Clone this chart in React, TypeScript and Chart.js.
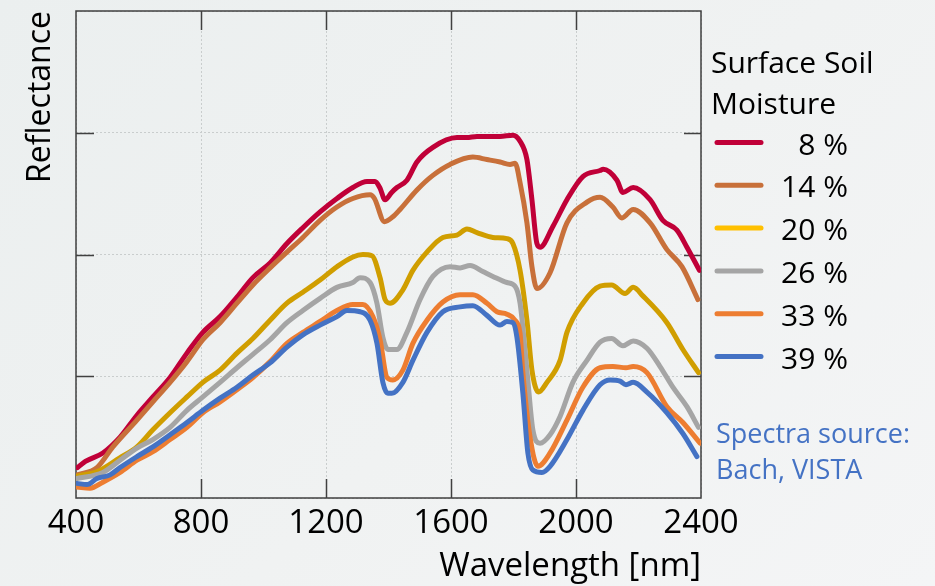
import React, { useEffect, useRef } from "react";
import { Chart, registerables } from "chart.js";

Chart.register(...registerables);

// ---- Data ----
const X_MIN = 400;
const X_MAX = 2400;
const X_STEP = 400;
const Y_MIN = 0;
const Y_MAX = 0.4;
const Y_STEP = 0.1;

const SERIES_LABELS = ["8 %", "14 %", "20 %", "26 %", "33 %", "39 %"];

const WL_8 = [405, 430, 486, 541, 595, 646, 701, 755, 806, 861, 915, 966, 1021, 1075, 1126, 1181, 1235, 1286, 1331, 1357, 1372, 1389, 1410, 1427, 1459, 1491, 1542, 1619, 1650, 1683, 1757, 1798, 1821, 1843, 1859, 1875, 1885, 1926, 1971, 2022, 2077, 2087, 2131, 2150, 2183, 2237, 2278, 2323, 2355, 2395];
const R_8 = [0.025, 0.030, 0.037, 0.050, 0.068, 0.083, 0.099, 0.119, 0.136, 0.149, 0.165, 0.181, 0.193, 0.209, 0.222, 0.235, 0.246, 0.255, 0.260, 0.260, 0.255, 0.245, 0.251, 0.255, 0.261, 0.276, 0.288, 0.296, 0.296, 0.297, 0.297, 0.298, 0.293, 0.278, 0.245, 0.209, 0.206, 0.223, 0.245, 0.264, 0.269, 0.270, 0.261, 0.251, 0.255, 0.245, 0.228, 0.220, 0.206, 0.187];

const WL_14 = [403, 467, 518, 595, 646, 701, 755, 806, 861, 915, 966, 1021, 1075, 1126, 1181, 1235, 1286, 1341, 1355, 1387, 1414, 1437, 1491, 1542, 1597, 1670, 1715, 1757, 1789, 1805, 1821, 1843, 1859, 1875, 1917, 1971, 2035, 2077, 2118, 2147, 2183, 2237, 2291, 2339, 2390];
const R_14 = [0.019, 0.025, 0.042, 0.064, 0.079, 0.095, 0.112, 0.130, 0.144, 0.160, 0.175, 0.189, 0.202, 0.214, 0.228, 0.239, 0.246, 0.249, 0.246, 0.227, 0.231, 0.237, 0.253, 0.265, 0.274, 0.280, 0.278, 0.276, 0.274, 0.275, 0.259, 0.226, 0.190, 0.172, 0.185, 0.226, 0.243, 0.247, 0.239, 0.230, 0.237, 0.226, 0.204, 0.190, 0.163];

const WL_20 = [403, 470, 540, 595, 646, 701, 755, 806, 861, 915, 966, 1021, 1075, 1126, 1181, 1235, 1286, 1318, 1347, 1373, 1389, 1405, 1446, 1478, 1523, 1574, 1619, 1651, 1683, 1734, 1779, 1798, 1821, 1843, 1859, 1880, 1907, 1949, 1971, 2022, 2077, 2114, 2157, 2183, 2214, 2291, 2342, 2392];
const R_20 = [0.018, 0.022, 0.033, 0.042, 0.056, 0.070, 0.083, 0.095, 0.105, 0.119, 0.131, 0.146, 0.160, 0.169, 0.179, 0.190, 0.198, 0.200, 0.199, 0.181, 0.163, 0.160, 0.171, 0.187, 0.202, 0.214, 0.216, 0.221, 0.218, 0.214, 0.213, 0.209, 0.187, 0.146, 0.105, 0.087, 0.095, 0.113, 0.136, 0.160, 0.174, 0.175, 0.168, 0.173, 0.166, 0.144, 0.122, 0.103];

const WL_26 = [403, 486, 541, 595, 646, 701, 755, 806, 861, 915, 966, 1021, 1075, 1126, 1181, 1235, 1286, 1309, 1341, 1363, 1382, 1398, 1427, 1459, 1501, 1542, 1597, 1629, 1661, 1702, 1734, 1779, 1805, 1821, 1843, 1862, 1885, 1917, 1949, 1990, 2035, 2077, 2114, 2150, 2183, 2227, 2269, 2310, 2355, 2392];
const R_26 = [0.016, 0.021, 0.031, 0.041, 0.048, 0.058, 0.072, 0.083, 0.095, 0.107, 0.118, 0.130, 0.144, 0.154, 0.164, 0.173, 0.177, 0.181, 0.177, 0.160, 0.132, 0.122, 0.122, 0.136, 0.163, 0.182, 0.190, 0.189, 0.191, 0.186, 0.182, 0.177, 0.174, 0.160, 0.105, 0.056, 0.045, 0.052, 0.067, 0.095, 0.113, 0.128, 0.131, 0.125, 0.129, 0.123, 0.108, 0.091, 0.075, 0.058];

const WL_33 = [403, 445, 486, 541, 595, 646, 701, 755, 806, 861, 915, 966, 1021, 1075, 1126, 1181, 1235, 1286, 1318, 1350, 1373, 1395, 1414, 1446, 1478, 1523, 1574, 1629, 1670, 1715, 1747, 1779, 1805, 1821, 1830, 1853, 1878, 1917, 1971, 2022, 2077, 2118, 2160, 2183, 2227, 2291, 2342, 2397];
const R_33 = [0.009, 0.008, 0.013, 0.021, 0.031, 0.038, 0.048, 0.058, 0.070, 0.079, 0.089, 0.099, 0.112, 0.127, 0.136, 0.145, 0.154, 0.159, 0.159, 0.149, 0.130, 0.099, 0.097, 0.105, 0.127, 0.146, 0.161, 0.167, 0.167, 0.160, 0.153, 0.151, 0.146, 0.135, 0.103, 0.050, 0.026, 0.037, 0.064, 0.091, 0.107, 0.108, 0.107, 0.108, 0.103, 0.075, 0.062, 0.045];

const WL_39 = [403, 435, 467, 509, 541, 595, 646, 701, 755, 806, 861, 915, 966, 1021, 1075, 1126, 1181, 1235, 1267, 1309, 1341, 1363, 1382, 1398, 1411, 1446, 1478, 1523, 1574, 1629, 1670, 1715, 1757, 1779, 1798, 1811, 1830, 1846, 1862, 1891, 1917, 1971, 2022, 2077, 2109, 2141, 2160, 2183, 2227, 2291, 2342, 2387];
const R_39 = [0.012, 0.011, 0.016, 0.019, 0.025, 0.034, 0.042, 0.052, 0.062, 0.072, 0.082, 0.091, 0.101, 0.111, 0.124, 0.134, 0.142, 0.149, 0.154, 0.153, 0.146, 0.127, 0.095, 0.086, 0.086, 0.095, 0.113, 0.136, 0.153, 0.157, 0.158, 0.150, 0.142, 0.145, 0.144, 0.132, 0.086, 0.037, 0.023, 0.021, 0.026, 0.048, 0.072, 0.093, 0.097, 0.096, 0.093, 0.095, 0.087, 0.070, 0.053, 0.034];

const SERIES_WL = [WL_8, WL_14, WL_20, WL_26, WL_33, WL_39];
const SERIES_R = [R_8, R_14, R_20, R_26, R_33, R_39];

const X_TITLE = "Wavelength [nm]";
const Y_TITLE = "Reflectance";
const LEGEND_TITLE = ["Surface Soil", "Moisture"];
const SOURCE_TEXT = ["Spectra source:", "Bach, VISTA"];

// ---- Styles ----
const FONT = "'Open Sans', 'Noto Sans', sans-serif";
const LINE_COLORS = ["#C00038", "#C8703A", "#D09E00", "#A5A5A5", "#ED7D31", "#4472C4"];
const LEGEND_COLORS = ["#C00038", "#C8703A", "#FFC000", "#A5A5A5", "#ED7D31", "#4472C4"];
const FRAME_COLOR = "#404040";
const SOURCE_COLOR = "#4472C4";

const framePlugin = {
  id: "frameTicks",
  beforeDatasetsDraw(chart: any) {
    const { ctx, chartArea, scales } = chart;
    const { left, right, top, bottom } = chartArea;
    const xs = scales.x;
    const ys = scales.y;
    ctx.save();
    ctx.strokeStyle = FRAME_COLOR;
    ctx.lineWidth = 1.5;
    ctx.beginPath();
    ctx.rect(left, top, right - left, bottom - top);
    ctx.stroke();
    ctx.beginPath();
    xs.ticks.forEach((t: any) => {
      if (t.value > xs.min && t.value < xs.max) {
        const px = Math.round(xs.getPixelForValue(t.value)) + 0.5;
        ctx.moveTo(px, bottom);
        ctx.lineTo(px, bottom - 19);
        ctx.moveTo(px, top);
        ctx.lineTo(px, top + 19);
      }
    });
    ys.ticks.forEach((t: any) => {
      if (t.value > ys.min + 1e-9 && t.value < ys.max - 1e-9) {
        const py = Math.round(ys.getPixelForValue(t.value)) + 0.5;
        ctx.moveTo(left, py);
        ctx.lineTo(left + 18, py);
        ctx.moveTo(right, py);
        ctx.lineTo(right - 17, py);
      }
    });
    ctx.stroke();
    ctx.restore();
  },
};

const legendPlugin = {
  id: "sideLegend",
  afterDraw(chart: any) {
    const { ctx } = chart;
    ctx.save();
    ctx.textBaseline = "alphabetic";
    ctx.fillStyle = "#000";
    ctx.font = `30px ${FONT}`;
    ctx.textAlign = "left";
    ctx.fillText(LEGEND_TITLE[0], 711, 73);
    ctx.fillText(LEGEND_TITLE[1], 711, 114);
    chart.data.datasets.forEach((ds: any, i: number) => {
      const y = 142.5 + i * 42.8;
      ctx.strokeStyle = LEGEND_COLORS[i];
      ctx.lineWidth = 5;
      ctx.lineCap = "round";
      ctx.beginPath();
      ctx.moveTo(717, y);
      ctx.lineTo(761, y);
      ctx.stroke();
      ctx.textAlign = "right";
      ctx.fillStyle = "#000";
      ctx.fillText(ds.label, 848, y + 12);
    });
    ctx.textAlign = "left";
    ctx.fillStyle = SOURCE_COLOR;
    ctx.font = `27px ${FONT}`;
    ctx.fillText(SOURCE_TEXT[0], 716, 443);
    ctx.fillText(SOURCE_TEXT[1], 716, 479);
    ctx.restore();
  },
};

export default function App() {
  const canvasRef = useRef<HTMLCanvasElement | null>(null);

  useEffect(() => {
    if (!canvasRef.current) return;
    const datasets = SERIES_LABELS.map((label, i) => ({
      label,
      data: SERIES_WL[i].map((w, j) => ({ x: w, y: SERIES_R[i][j] })),
      borderColor: LINE_COLORS[i],
      backgroundColor: LINE_COLORS[i],
      borderWidth: 5,
      pointRadius: 0,
      cubicInterpolationMode: "monotone" as const,
      borderCapStyle: "round" as const,
      borderJoinStyle: "round" as const,
      order: SERIES_LABELS.length - i,
      fill: false,
    }));

    const chart = new Chart(canvasRef.current, {
      type: "line",
      data: { datasets },
      options: {
        animation: false,
        responsive: false,
        devicePixelRatio: 1,
        layout: { padding: { top: 11, right: 234, left: 0, bottom: 0 } },
        plugins: {
          legend: { display: false },
          tooltip: { enabled: false },
        },
        scales: {
          x: {
            type: "linear",
            min: X_MIN,
            max: X_MAX,
            ticks: {
              stepSize: X_STEP,
              color: "#000",
              padding: 6,
              font: { family: FONT, size: 33 },
              maxRotation: 0,
              autoSkip: false,
              callback: (v: any) => String(v),
            },
            grid: {
              color: "#c9cdcd",
              lineWidth: 1,
              drawTicks: false,
            },
            border: { display: false, dash: [2, 2] },
            title: {
              display: true,
              text: X_TITLE,
              align: "end",
              color: "#000",
              font: { family: FONT, size: 33 },
              padding: { top: 0, bottom: 0 },
            },
            afterFit(scale: any) {
              scale.height = 88;
            },
          },
          y: {
            type: "linear",
            min: Y_MIN,
            max: Y_MAX,
            ticks: { stepSize: Y_STEP, display: false },
            grid: {
              color: "#c9cdcd",
              lineWidth: 1,
              drawTicks: false,
            },
            border: { display: false, dash: [2, 2] },
            title: {
              display: true,
              text: Y_TITLE,
              align: "end",
              color: "#000",
              font: { family: FONT, size: 32 },
              padding: { top: 22, bottom: 0 },
            },
            afterFit(scale: any) {
              scale.width = 76;
            },
          },
        },
      },
      plugins: [framePlugin, legendPlugin],
    });
    return () => chart.destroy();
  }, []);

  return (
    <div
      style={{
        position: "absolute",
        left: 0,
        top: 0,
        width: 935,
        height: 586,
        background: "linear-gradient(135deg, #ebefef 0%, #f0f2f2 55%, #f4f5f6 100%)",
      }}
    >
      <canvas ref={canvasRef} width={935} height={586} style={{ display: "block" }} />
    </div>
  );
}
